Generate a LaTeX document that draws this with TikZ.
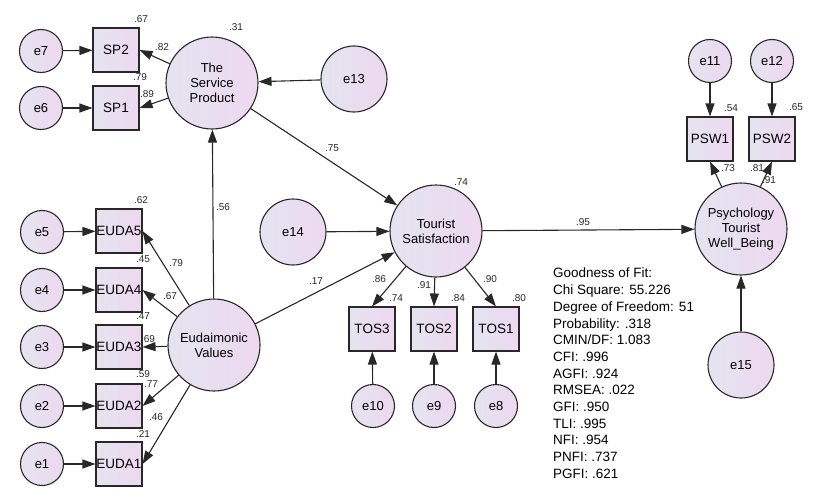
\documentclass[tikz,border=0pt]{standalone}
\usepackage{fontspec}
\setmainfont{Liberation Sans}
\usetikzlibrary{arrows.meta}
\definecolor{fillA}{RGB}{228,228,240}
\definecolor{fillB}{RGB}{238,216,240}
\definecolor{edgec}{RGB}{40,40,40}
\tikzset{
  base/.style={draw=edgec, line width=1.1pt, left color=fillA, right color=fillB, inner sep=0pt, align=center, font=\fontsize{13}{15}\selectfont},
  latent/.style={base, circle, minimum size=92pt},
  bigerr/.style={base, circle, minimum size=66pt},
  err/.style={base, circle, minimum size=43pt},
  obs/.style={base, rectangle, minimum width=46pt, minimum height=44pt, font=\fontsize{13.5}{15}\selectfont},
  path/.style={draw=edgec, line width=1.1pt, -{Triangle[length=13pt,width=9pt]}},
  lab/.style={font=\fontsize{10}{12}\selectfont, inner sep=0pt, text=black!85},
  stats/.style={font=\fontsize{13.5}{16.7}\selectfont, align=left, inner sep=0pt, anchor=north west}
}
\begin{document}
\begin{tikzpicture}[x=1pt,y=-1pt]
\useasboundingbox (0,0) rectangle (822,503);
% latent variables
\node[latent] (sp) at (212,83) {The\\Service\\Product};
\node[latent] (ev) at (214,345) {Eudaimonic\\Values};
\node[latent] (ts) at (436,231) {Tourist\\Satisfaction};
\node[latent] (pw) at (741,229) {Psychology\\Tourist\\Well\_Being};
% big errors
\node[bigerr] (e13) at (354,79) {e13};
\node[bigerr] (e14) at (293,232) {e14};
\node[bigerr] (e15) at (741,365) {e15};
% SP indicators
\node[obs] (sp2) at (116,50) {SP2};
\node[obs] (sp1) at (116,108) {SP1};
\node[err] (e7) at (41,51) {e7};
\node[err] (e6) at (41,108) {e6};
% EUDA indicators
\node[obs] (eu5) at (119,231) {EUDA5};
\node[obs] (eu4) at (119,290) {EUDA4};
\node[obs] (eu3) at (119,347) {EUDA3};
\node[obs] (eu2) at (119,406) {EUDA2};
\node[obs] (eu1) at (119,464) {EUDA1};
\node[err] (e5) at (42,232) {e5};
\node[err] (e4) at (42,290) {e4};
\node[err] (e3) at (42,347) {e3};
\node[err] (e2) at (42,406) {e2};
\node[err] (e1) at (42,464) {e1};
% TOS indicators
\node[obs] (tos3) at (372,329) {TOS3};
\node[obs] (tos2) at (434,329) {TOS2};
\node[obs] (tos1) at (496,329) {TOS1};
\node[err] (e10) at (373,406) {e10};
\node[err] (e9) at (434,406) {e9};
\node[err] (e8) at (496,406) {e8};
% PSW indicators
\node[obs] (psw1) at (710,139) {PSW1};
\node[obs] (psw2) at (772,139) {PSW2};
\node[err] (e11) at (710,61) {e11};
\node[err] (e12) at (772,61) {e12};
% paths
\draw[path] (e7) -- (sp2);
\draw[path] (e6) -- (sp1);
\draw[path] (sp) -- (sp2.east);
\draw[path] (sp) -- (sp1.east);
\draw[path] (e13) -- (sp);
\draw[path] (ev) -- (sp);
\draw[path] (sp) -- (ts);
\draw[path] (e14) -- (ts);
\draw[path] (ev) -- (ts);
\foreach \i in {1,...,5}{
  \draw[path] (e\i) -- (eu\i);
  \draw[path] (ev) -- (eu\i.east);
}
\draw[path] (ts) -- (tos3.north);
\draw[path] (ts) -- (tos2.north);
\draw[path] (ts) -- (tos1.north);
\draw[path] (e10) -- (tos3);
\draw[path] (e9) -- (tos2);
\draw[path] (e8) -- (tos1);
\draw[path] (ts) -- (pw);
\draw[path] (pw) -- (psw1.south);
\draw[path] (pw) -- (psw2.south);
\draw[path] (e11) -- (psw1);
\draw[path] (e12) -- (psw2);
\draw[path] (e15) -- (pw);
% coefficient labels
\node[lab] (l67) at (141,19) {.67};
\node[lab] (l31) at (236,27) {.31};
\node[lab] (l82) at (162,47) {.82};
\node[lab] (l79a) at (140,77) {.79};
\node[lab] (l89) at (147,94) {.89};
\node[lab] (l62) at (141,200) {.62};
\node[lab] (l45) at (143,259) {.45};
\node[lab] (l79b) at (176,263) {.79};
\node[lab] (l67b) at (170,296) {.67};
\node[lab] (l47) at (143,316) {.47};
\node[lab] (l69) at (148,339) {.69};
\node[lab] (l59) at (143,374) {.59};
\node[lab] (l77) at (151,384) {.77};
\node[lab] (l46) at (156,417) {.46};
\node[lab] (l21) at (143,434) {.21};
\node[lab] (l56) at (223,207) {.56};
\node[lab] (l75) at (332,148) {.75};
\node[lab] (l74) at (461,182) {.74};
\node[lab] (l17) at (316,281) {.17};
\node[lab] (l86) at (379,279) {.86};
\node[lab] (l91) at (424,285) {.91};
\node[lab] (l90) at (490,279) {.90};
\node[lab] (l74b) at (396,298) {.74};
\node[lab] (l84) at (458,298) {.84};
\node[lab] (l80) at (519,298) {.80};
\node[lab] (l54) at (731,108) {.54};
\node[lab] (l65) at (796,107) {.65};
\node[lab] (l73) at (728,168) {.73};
\node[lab] (l81) at (757,168) {.81};
\node[lab] (l91b) at (769,180) {.91};
\node[lab] (l95) at (583,222) {.95};
% fit statistics
\node[stats] (fit) at (553,268) {Goodness of Fit:\\Chi Square: 55.226\\Degree of Freedom: 51\\Probability: .318\\CMIN/DF: 1.083\\CFI: .996\\AGFI: .924\\RMSEA: .022\\GFI: .950\\TLI: .995\\NFI: .954\\PNFI: .737\\PGFI: .621};
\end{tikzpicture}
\end{document}
